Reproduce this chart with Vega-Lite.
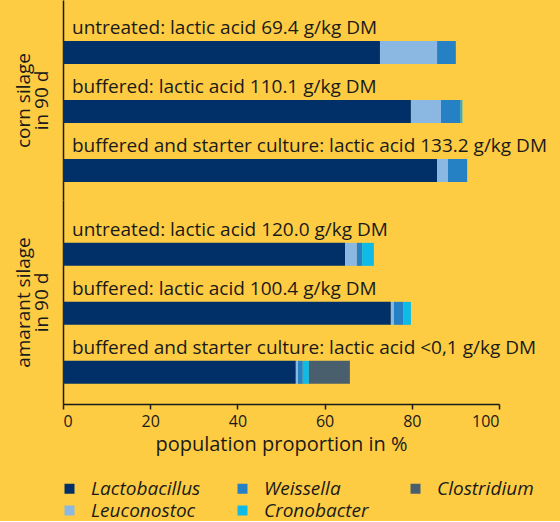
{
  "$schema": "https://vega.github.io/schema/vega-lite/v6.json",
  "background": "#FDCC43",
  "padding": {"left": 14, "top": 0, "right": 13, "bottom": 0},
  "spacing": 0,
  "config": {
    "view": {"stroke": null},
    "font": "Open Sans",
    "axis": {"grid": false, "domainColor": "#1a1a1a", "domainWidth": 1.5, "tickColor": "#1a1a1a", "tickWidth": 1.5, "labelColor": "#1a1a1a", "titleColor": "#1a1a1a", "titleFontWeight": "normal"},
    "legend": {"labelColor": "#1a1a1a"}
  },
  "datasets": {
    "bars": [
      {"silage": "corn", "row": "u", "genus": "Lactobacillus", "k": 1, "value": 72.7},
      {"silage": "corn", "row": "u", "genus": "Leuconostoc", "k": 2, "value": 13.1},
      {"silage": "corn", "row": "u", "genus": "Weissella", "k": 3, "value": 4.3},
      {"silage": "corn", "row": "b", "genus": "Lactobacillus", "k": 1, "value": 79.8},
      {"silage": "corn", "row": "b", "genus": "Leuconostoc", "k": 2, "value": 6.9},
      {"silage": "corn", "row": "b", "genus": "Weissella", "k": 3, "value": 4.5},
      {"silage": "corn", "row": "b", "genus": "Cronobacter", "k": 4, "value": 0.4},
      {"silage": "corn", "row": "bs", "genus": "Lactobacillus", "k": 1, "value": 85.8},
      {"silage": "corn", "row": "bs", "genus": "Leuconostoc", "k": 2, "value": 2.5},
      {"silage": "corn", "row": "bs", "genus": "Weissella", "k": 3, "value": 4.4},
      {"silage": "amarant", "row": "u", "genus": "Lactobacillus", "k": 1, "value": 64.7},
      {"silage": "amarant", "row": "u", "genus": "Leuconostoc", "k": 2, "value": 2.7},
      {"silage": "amarant", "row": "u", "genus": "Weissella", "k": 3, "value": 1.2},
      {"silage": "amarant", "row": "u", "genus": "Cronobacter", "k": 4, "value": 2.7},
      {"silage": "amarant", "row": "b", "genus": "Lactobacillus", "k": 1, "value": 75.2},
      {"silage": "amarant", "row": "b", "genus": "Leuconostoc", "k": 2, "value": 0.7},
      {"silage": "amarant", "row": "b", "genus": "Weissella", "k": 3, "value": 2.1},
      {"silage": "amarant", "row": "b", "genus": "Cronobacter", "k": 4, "value": 1.8},
      {"silage": "amarant", "row": "bs", "genus": "Lactobacillus", "k": 1, "value": 53.4},
      {"silage": "amarant", "row": "bs", "genus": "Leuconostoc", "k": 2, "value": 0.5},
      {"silage": "amarant", "row": "bs", "genus": "Weissella", "k": 3, "value": 1.1},
      {"silage": "amarant", "row": "bs", "genus": "Cronobacter", "k": 4, "value": 1.4},
      {"silage": "amarant", "row": "bs", "genus": "Clostridium", "k": 5, "value": 9.4}
    ],
    "labels": [
      {"silage": "corn", "row": "u", "label": "untreated: lactic acid 69.4 g/kg DM"},
      {"silage": "corn", "row": "b", "label": "buffered: lactic acid 110.1 g/kg DM"},
      {"silage": "corn", "row": "bs", "label": "buffered and starter culture: lactic acid 133.2 g/kg DM"},
      {"silage": "amarant", "row": "u", "label": "untreated: lactic acid 120.0 g/kg DM"},
      {"silage": "amarant", "row": "b", "label": "buffered: lactic acid 100.4 g/kg DM"},
      {"silage": "amarant", "row": "bs", "label": "buffered and starter culture: lactic acid <0,1 g/kg DM"}
    ]
  },
  "vconcat": [
    {
      "width": 436,
      "height": 200,
      "layer": [
        {
          "data": {"name": "bars"},
          "transform": [{"filter": "datum.silage == 'corn'"}],
          "mark": {"type": "bar"},
          "encoding": {
            "y": {"field": "row", "type": "nominal", "sort": ["u", "b", "bs"],
                  "scale": {"paddingInner": 0.61, "paddingOuter": 0.5, "align": 0.695},
                  "axis": {"title": ["corn silage", "in 90 d"], "labels": false, "ticks": false, "titleFontSize": 19, "titleLineHeight": 18, "titlePadding": 12}},
            "x": {"field": "value", "type": "quantitative", "stack": "zero", "scale": {"domain": [0, 100]}, "axis": null},
            "color": {"field": "genus", "type": "nominal",
                      "scale": {"domain": ["Lactobacillus", "Leuconostoc", "Weissella", "Cronobacter", "Clostridium"],
                                "range": ["#003067", "#8AB8E3", "#2680C4", "#10BAE6", "#4A5F6E"]},
                      "legend": {"title": null, "orient": "none", "legendX": -3, "legendY": 479, "columns": 3, "gridAlign": "all", "columnPadding": 32, "rowPadding": 2, "symbolType": "square", "symbolSize": 100, "symbolStrokeWidth": 0, "labelFontSize": 19, "labelFontStyle": "italic", "labelOffset": 12}},
            "order": {"field": "k", "type": "quantitative"}
          }
        },
        {
          "data": {"name": "labels"},
          "transform": [{"filter": "datum.silage == 'corn'"}],
          "mark": {"type": "text", "align": "left", "baseline": "alphabetic", "dx": 9, "dy": -18.5, "fontSize": 19, "color": "#1a1a1a"},
          "encoding": {
            "y": {"field": "row", "type": "nominal", "sort": ["u", "b", "bs"]},
            "x": {"datum": 0, "type": "quantitative"},
            "text": {"field": "label"}
          }
        }
      ]
    },
    {
      "width": 436,
      "height": 204,
      "layer": [
        {
          "data": {"name": "bars"},
          "transform": [{"filter": "datum.silage == 'amarant'"}],
          "mark": {"type": "bar"},
          "encoding": {
            "y": {"field": "row", "type": "nominal", "sort": ["u", "b", "bs"],
                  "scale": {"paddingInner": 0.61, "paddingOuter": 0.534, "align": 0.68},
                  "axis": {"title": ["amarant silage", "in 90 d"], "labels": false, "ticks": false, "titleFontSize": 19, "titleLineHeight": 18, "titlePadding": 12}},
            "x": {"field": "value", "type": "quantitative", "stack": "zero", "scale": {"domain": [0, 100]},
                  "axis": {"values": [0, 20, 40, 60, 80, 100], "title": "population proportion in %", "tickSize": 5, "labelFontSize": 16, "labelPadding": 4, "titleFontSize": 20, "titlePadding": 5}},
            "color": {"field": "genus", "type": "nominal"},
            "order": {"field": "k", "type": "quantitative"}
          }
        },
        {
          "data": {"name": "labels"},
          "transform": [{"filter": "datum.silage == 'amarant'"}],
          "mark": {"type": "text", "align": "left", "baseline": "alphabetic", "dx": 9, "dy": -18.5, "fontSize": 19, "color": "#1a1a1a"},
          "encoding": {
            "y": {"field": "row", "type": "nominal", "sort": ["u", "b", "bs"]},
            "x": {"datum": 0, "type": "quantitative"},
            "text": {"field": "label"}
          }
        }
      ]
    }
  ]
}
